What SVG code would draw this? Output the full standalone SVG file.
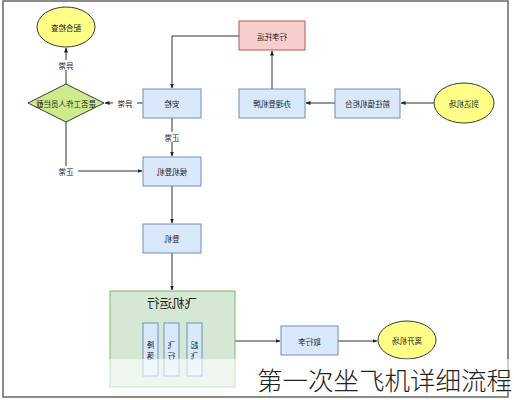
<svg xmlns="http://www.w3.org/2000/svg" width="514" height="400" viewBox="0 0 514 400">
<defs>
<marker id="ah" viewBox="0 0 10 10" refX="9" refY="5" markerWidth="5" markerHeight="5" orient="auto"><path d="M0,1 L10,5 L0,9 z" fill="#222"/></marker>
<style>
.lb{font-family:"Noto Sans CJK SC","Noto Sans",sans-serif;font-size:7.5px;fill:#222;text-anchor:middle;dominant-baseline:central}
.blue{fill:#dae8fc;stroke:#6c8ebf;stroke-width:1}
.pink{fill:#f8cecc;stroke:#b85450;stroke-width:1}
.yel{fill:#ffff88;stroke:#36393d;stroke-width:1}
.grn{fill:#cdeb8b;stroke:#36393d;stroke-width:1}
.grp{fill:#d5e8d4;stroke:#82b366;stroke-width:1}
.ln{fill:none;stroke:#333;stroke-width:1;marker-end:url(#ah)}
.lp{fill:none;stroke:#333;stroke-width:1}
</style>
</defs>
<rect width="514" height="400" fill="#fff"/>
<rect x="3" y="1" width="505" height="396" fill="none" stroke="#666" stroke-width="1.5"/>

<g id="connectors">
<path class="ln" d="M434,103 L401,103"/>
<path class="ln" d="M335,103 L306,103"/>
<path class="ln" d="M272,89 L272,51"/>
<path class="ln" d="M239,36 L172,36 L172,88"/>
<path class="ln" d="M143,103 L105,103"/>
<path class="ln" d="M66,84 L66,48"/>
<path class="ln" d="M172,118 L172,156"/>
<path class="ln" d="M66,122 L66,171 L142,171"/>
<path class="ln" d="M172,186 L172,223"/>
<path class="ln" d="M172,253 L172,290"/>
<path class="ln" d="M235,341 L280,341"/>
<path class="ln" d="M338,341 L377,341"/>
<rect x="113" y="98" width="24" height="10" fill="#fff"/>
<text class="lb" x="125" y="103" transform="translate(250,0) scale(-1,1)">异常</text>
<rect x="54" y="60" width="24" height="10" fill="#fff"/>
<text class="lb" x="66" y="65" transform="translate(132,0) scale(-1,1)">异常</text>
<rect x="160" y="132" width="24" height="10" fill="#fff"/>
<text class="lb" x="172" y="137" transform="translate(344,0) scale(-1,1)">正常</text>
<rect x="54" y="166" width="24" height="10" fill="#fff"/>
<text class="lb" x="66" y="171" transform="translate(132,0) scale(-1,1)">正常</text>
</g>

<g id="arrive">
<ellipse class="yel" cx="464" cy="103" rx="30" ry="20"/>
<text class="lb" x="464" y="103" transform="translate(928,0) scale(-1,1)">到达机场</text>
</g>
<g id="counter">
<rect class="blue" x="335" y="89" width="65" height="29"/>
<text class="lb" x="367.5" y="103" transform="translate(735,0) scale(-1,1)">前往值机柜台</text>
</g>
<g id="boardingpass">
<rect class="blue" x="239" y="89" width="66" height="29"/>
<text class="lb" x="272" y="103" transform="translate(544,0) scale(-1,1)">办理登机牌</text>
</g>
<g id="baggage">
<rect class="pink" x="239" y="21" width="66" height="29"/>
<text class="lb" x="272" y="36" transform="translate(544,0) scale(-1,1)">行李托运</text>
</g>
<g id="security">
<rect class="blue" x="143" y="89" width="58" height="29"/>
<text class="lb" x="172" y="103" transform="translate(344,0) scale(-1,1)">安检</text>
</g>
<g id="decision">
<path class="grn" d="M66,84 L104,103 L66,122 L28,103 z"/>
<text class="lb" x="66" y="103" transform="translate(132,0) scale(-1,1)">是否工作人员拦截</text>
</g>
<g id="cooperate">
<ellipse class="yel" cx="66" cy="27" rx="29" ry="20"/>
<text class="lb" x="66" y="27" transform="translate(132,0) scale(-1,1)">配合检查</text>
</g>
<g id="wait">
<rect class="blue" x="143" y="157" width="58" height="29"/>
<text class="lb" x="172" y="171" transform="translate(344,0) scale(-1,1)">候机登机</text>
</g>
<g id="board">
<rect class="blue" x="143" y="224" width="58" height="29"/>
<text class="lb" x="172" y="238" transform="translate(344,0) scale(-1,1)">登机</text>
</g>
<g id="flight">
<rect class="grp" x="110" y="291" width="125" height="96"/>
<text class="lb" x="172" y="302" style="font-size:12.5px" transform="translate(344,0) scale(-1,1)">飞机运行</text>
<rect class="blue" x="143" y="323" width="15" height="53"/>
<text class="lb" x="150.5" y="344" transform="translate(301,0) scale(-1,1)">降</text>
<text class="lb" x="150.5" y="355" transform="translate(301,0) scale(-1,1)">落</text>
<rect class="blue" x="164" y="323" width="15" height="53"/>
<text class="lb" x="171.5" y="344" transform="translate(343,0) scale(-1,1)">飞</text>
<text class="lb" x="171.5" y="355" transform="translate(343,0) scale(-1,1)">行</text>
<rect class="blue" x="187" y="323" width="15" height="53"/>
<text class="lb" x="194.5" y="344" transform="translate(389,0) scale(-1,1)">起</text>
<text class="lb" x="194.5" y="355" transform="translate(389,0) scale(-1,1)">飞</text>
</g>
<g id="claim">
<rect class="blue" x="281" y="326" width="57" height="29"/>
<text class="lb" x="309.5" y="341" transform="translate(619,0) scale(-1,1)">取行李</text>
</g>
<g id="leave">
<ellipse class="yel" cx="407" cy="340" rx="29" ry="19"/>
<text class="lb" x="407" y="340" transform="translate(814,0) scale(-1,1)">离开机场</text>
</g>

<rect x="108" y="359" width="406" height="33" fill="#fff" fill-opacity="0.6"/>
<text x="512" y="390" text-anchor="end" font-family="Noto Sans CJK SC, sans-serif" font-size="25.5" font-weight="300" fill="#222">第一次坐飞机详细流程</text>
</svg>
